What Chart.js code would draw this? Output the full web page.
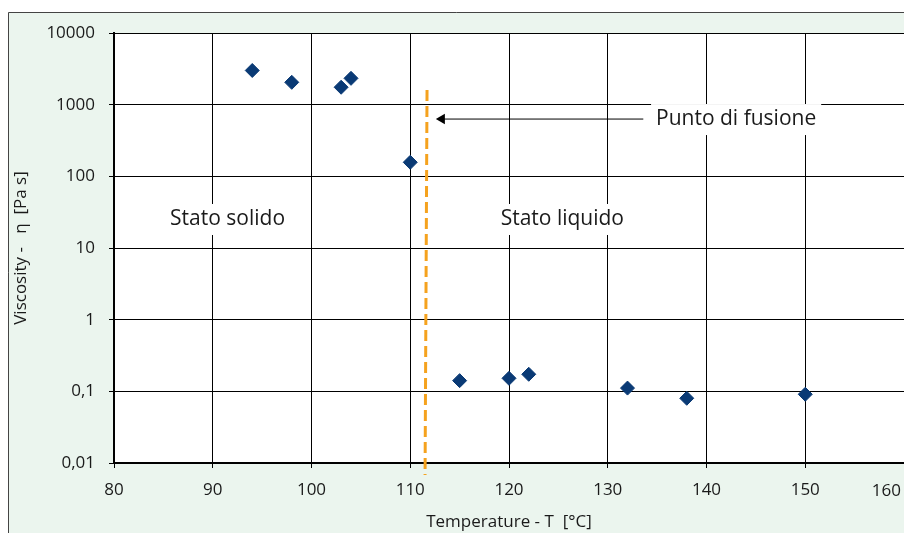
<!DOCTYPE html>
<html>
<head>
<meta charset="utf-8">
<script src="https://cdn.jsdelivr.net/npm/chart.js@4.4.1/dist/chart.umd.min.js"></script>
<style>
  html, body { margin: 0; padding: 0; background: #fff; overflow: hidden; }
  #wrap { width: 904px; height: 533px; }
</style>
</head>
<body>
<div id="wrap"><canvas id="myChart" width="904" height="533"></canvas></div>
<script>
// Temperatura [°C] e viscosità [Pa s]
const temperature = [94, 98, 103, 104, 110, 115, 120, 122, 132, 138, 150];
const viscosity = [3000, 2050, 1750, 2330, 157, 0.141, 0.152, 0.173, 0.111, 0.080, 0.091];

const xTicks = [80, 90, 100, 110, 120, 130, 140, 150, 160];
const yTicks = [0.01, 0.1, 1, 10, 100, 1000, 10000];

// linea tratteggiata del punto di fusione e freccia
const meltX = [111.7, 111.5];
const meltY = [1600, 0.0068];
const arrowX = [113.2, 133.6];
const arrowY = [630, 630];

// testi nel grafico (posizione in unità dei dati)
const noteText = ['Stato solido', 'Stato liquido', 'Punto di fusione'];
const noteX = [91.5, 125.4, 143.0];
const noteY = [25.4, 25.4, 630];

const FONT = '"Open Sans", "Noto Sans", sans-serif';
const INK = '#1a1a1a';

// sfondo verde della cornice e area bianca del grafico
const framePlugin = {
    id: 'frame',
    beforeDraw(chart) {
        const { ctx, chartArea: a } = chart;
        ctx.save();
        ctx.fillStyle = '#fff';
        ctx.fillRect(0, 0, chart.width, chart.height);
        ctx.fillStyle = '#ebf5ee';
        ctx.fillRect(8, 12, chart.width, chart.height);
        ctx.strokeStyle = '#444';
        ctx.lineWidth = 1;
        ctx.beginPath();
        ctx.moveTo(8.5, chart.height);
        ctx.lineTo(8.5, 12.5);
        ctx.lineTo(chart.width, 12.5);
        ctx.stroke();
        ctx.fillStyle = '#fff';
        ctx.fillRect(a.left, a.top, chart.width - a.left, a.bottom - a.top);
        ctx.restore();
    }
};

// etichette con sfondo bianco sopra la griglia
const notesPlugin = {
    id: 'notes',
    beforeDatasetsDraw(chart) {
        const { ctx, scales: { x, y } } = chart;
        ctx.save();
        ctx.font = '21px ' + FONT;
        ctx.textAlign = 'center';
        ctx.textBaseline = 'middle';
        noteText.forEach((t, i) => {
            const px = x.getPixelForValue(noteX[i]);
            const py = y.getPixelForValue(noteY[i]);
            const w = ctx.measureText(t).width;
            ctx.fillStyle = '#fff';
            ctx.fillRect(px - w / 2 - 5, py - 15, w + 10, 31);
            ctx.fillStyle = INK;
            ctx.fillText(t, px, py);
        });
        ctx.restore();
    },
    afterDraw(chart) {
        // ultima etichetta dell'asse x spostata dentro l'immagine
        const { ctx, scales: { x } } = chart;
        const last = xTicks[xTicks.length - 1];
        ctx.save();
        ctx.font = '17px ' + FONT;
        ctx.fillStyle = INK;
        ctx.textAlign = 'right';
        ctx.textBaseline = 'middle';
        ctx.fillText(String(last), chart.width - 3, x.top + 28);
        ctx.restore();
    }
};

function drawChart() {
    const ctx = document.getElementById('myChart').getContext('2d');
    new Chart(ctx, {
        type: 'scatter',
        data: {
            datasets: [
                {
                    label: 'Punto di fusione',
                    data: meltX.map((v, i) => ({ x: v, y: meltY[i] })),
                    showLine: true,
                    borderColor: '#f5a21e',
                    borderWidth: 3,
                    borderDash: [11, 5],
                    pointRadius: 0,
                    clip: false
                },
                {
                    label: 'freccia',
                    data: arrowX.map((v, i) => ({ x: v, y: arrowY[i] })),
                    showLine: true,
                    borderColor: '#000',
                    borderWidth: 1,
                    pointStyle: 'triangle',
                    pointRotation: -90,
                    pointRadius: [6, 0],
                    pointBackgroundColor: '#000',
                    pointBorderColor: '#000',
                    pointBorderWidth: 0
                },
                {
                    label: 'Viscosity',
                    data: temperature.map((v, i) => ({ x: v, y: viscosity[i] })),
                    pointStyle: 'rectRot',
                    pointRadius: 7,
                    backgroundColor: '#0a3a75',
                    borderColor: '#0a3a75',
                    borderWidth: 1
                }
            ]
        },
        options: {
            responsive: false,
            animation: false,
            events: [],
            layout: { autoPadding: false, padding: { top: 33, left: 0, right: -3, bottom: 0 } },
            plugins: {
                legend: { display: false },
                tooltip: { enabled: false }
            },
            scales: {
                x: {
                    type: 'linear',
                    min: 80,
                    max: 160,
                    afterBuildTicks: s => { s.ticks = xTicks.map(v => ({ value: v })); },
                    afterFit: s => { s.height = 70; s.paddingLeft = 0; s.paddingRight = 0; },
                    grid: { color: '#000', lineWidth: 1, tickLength: 5 },
                    border: { color: '#000', width: 2 },
                    ticks: {
                        color: INK,
                        font: { family: FONT, size: 17 },
                        padding: 12,
                        maxRotation: 0,
                        autoSkip: false,
                        callback: v => (v === xTicks[xTicks.length - 1] ? '' : String(v))
                    },
                    title: {
                        display: true,
                        text: 'Temperature - T  [°C]',
                        color: INK,
                        font: { family: FONT, size: 17 },
                        padding: { top: 0, bottom: 1 }
                    }
                },
                y: {
                    type: 'logarithmic',
                    min: 0.01,
                    max: 10000,
                    afterBuildTicks: s => { s.ticks = yTicks.map(v => ({ value: v })); },
                    afterFit: s => { s.width = 114; s.paddingTop = 0; s.paddingBottom = 0; },
                    grid: { color: '#000', lineWidth: 1, tickLength: 5 },
                    border: { color: '#000', width: 2 },
                    ticks: {
                        color: INK,
                        font: { family: FONT, size: 17 },
                        padding: 14,
                        autoSkip: false,
                        callback: v => String(v).replace('.', ',')
                    },
                    title: {
                        display: true,
                        text: 'Viscosity -   η  [Pa s]',
                        color: INK,
                        font: { family: FONT, size: 17 },
                        padding: { top: 11, bottom: 0 }
                    }
                }
            }
        },
        plugins: [framePlugin, notesPlugin]
    });
}

document.fonts.load('17px "Open Sans"').then(drawChart, drawChart);
</script>
</body>
</html>
